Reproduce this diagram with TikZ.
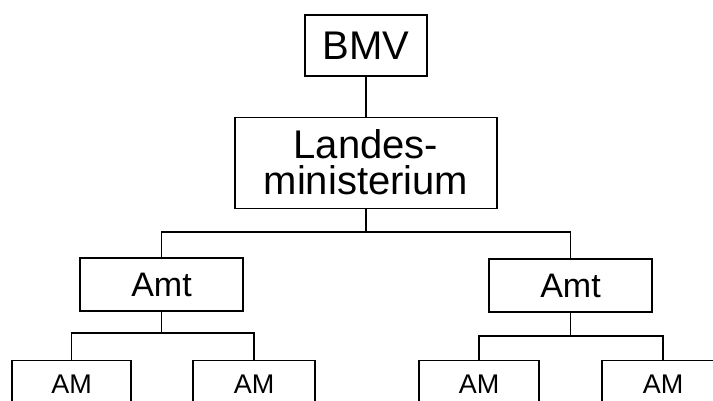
\documentclass[tikz,border=0pt]{standalone}
\usepackage{fontspec}
\setmainfont{Liberation Sans}
\begin{document}
\begin{tikzpicture}[x=1pt,y=1pt,
  box/.style={draw, line width=1.1pt, inner sep=0pt, align=center},
  link/.style={draw, line width=1.1pt},
  big/.style={font=\fontsize{40}{36}\selectfont},
  mid/.style={font=\fontsize{34}{36}\selectfont},
  small/.style={font=\fontsize{27}{30}\selectfont}]
  \useasboundingbox (0,0) rectangle (713,400);
  \clip (0,0) rectangle (713,400);
  % top levels
  \node[box, big, minimum width=122pt, minimum height=61pt] (bmv) at (366,354.5) {BMV};
  \node[box, big, minimum width=262pt, minimum height=91pt] (land) at (366,237.3) {Landes-\\ministerium};
  % offices
  \node[box, mid, minimum width=163pt, minimum height=53pt] (amtL) at (161.5,115.5) {Amt};
  \node[box, mid, minimum width=163pt, minimum height=53pt] (amtR) at (570.5,114.5) {Amt};
  % sub-offices
  \node[box, small, anchor=north, minimum width=119pt, minimum height=48pt] (amL1) at (71.5,40.5) {AM};
  \node[box, small, anchor=north, minimum width=122pt, minimum height=48pt] (amL2) at (254,40.5) {AM};
  \node[box, small, anchor=north, minimum width=120pt, minimum height=48pt] (amR1) at (479,40) {AM};
  \node[box, small, anchor=north, minimum width=122pt, minimum height=48pt] (amR2) at (663,40) {AM};
  % bus lines
  \coordinate (busTop) at (366,168);
  \coordinate (busL) at (161.5,67);
  \coordinate (busR) at (570.5,64);
  \draw[link] (bmv.south) -- (land.north);
  \draw[link] (land.south) -- (busTop);
  \draw[link] (amtL.north) |- (busTop) -| (amtR.north);
  \draw[link] (amtL.south) -- (busL);
  \draw[link] (amL1.north) |- (busL) -| (amL2.north);
  \draw[link] (amtR.south) -- (busR);
  \draw[link] (amR1.north) |- (busR) -| (amR2.north);
\end{tikzpicture}
\end{document}
